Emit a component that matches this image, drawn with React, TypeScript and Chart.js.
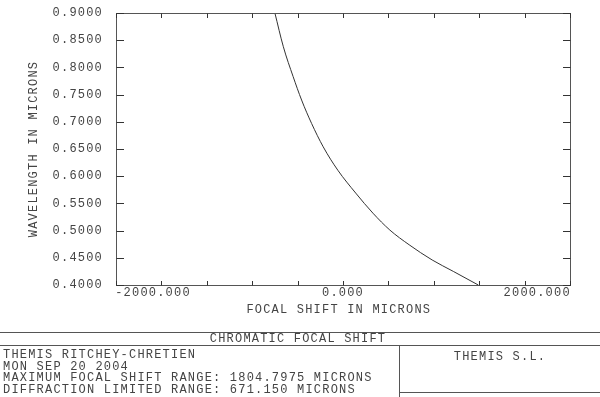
import React, { useEffect, useRef } from 'react';
import { Chart, registerables } from 'chart.js';

Chart.register(...registerables);

// ---- data ----
const wavelengths = [0.900, 0.838, 0.783, 0.740, 0.697, 0.654, 0.611, 0.569, 0.532, 0.501, 0.474, 0.446, 0.425, 0.400];
const focalShift = [-750, -657, -549, -456, -346, -218, -57, 140, 330, 516, 728, 982, 1215, 1490];

const xMin = -2500;
const xMax = 2500;
const xStep = 500;
const xLabelValues = [-2000, 0, 2000];
const yMin = 0.4;
const yMax = 0.9;
const yStep = 0.05;

const xTitle = 'FOCAL SHIFT IN MICRONS';
const yTitle = 'WAVELENGTH IN MICRONS';
const plotTitle = 'CHROMATIC FOCAL SHIFT';
const infoLines = [
  'THEMIS RITCHEY-CHRETIEN',
  'MON SEP 20 2004',
  'MAXIMUM FOCAL SHIFT RANGE: 1804.7975 MICRONS',
  'DIFFRACTION LIMITED RANGE: 671.150 MICRONS',
];
const company = 'THEMIS S.L.';

const FONT_FAMILY = '"Liberation Mono", "DejaVu Sans Mono", monospace';
const FONT_SIZE = 12;
const LETTER_SPACING = '1.2px';
const TEXT_COLOR = '#444';
const LINE_COLOR = '#555';

const framePlugin = {
  id: 'zemaxFrame',
  beforeUpdate(chart: any) {
    chart.ctx.letterSpacing = LETTER_SPACING;
  },
  beforeDraw(chart: any) {
    chart.ctx.letterSpacing = LETTER_SPACING;
  },
  afterDraw(chart: any) {
    const ctx = chart.ctx as CanvasRenderingContext2D;
    const { left, right, top, bottom } = chart.chartArea;
    const xs = chart.scales.x;
    const ys = chart.scales.y;
    ctx.save();
    ctx.lineWidth = 1;
    ctx.strokeStyle = LINE_COLOR;
    ctx.strokeRect(Math.round(left) + 0.5, Math.round(top) + 0.5, Math.round(right - left), Math.round(bottom - top));
    ctx.strokeStyle = '#333';
    ctx.beginPath();
    xs.ticks.forEach((t: any) => {
      const px = Math.round(xs.getPixelForValue(t.value)) + 0.5;
      ctx.moveTo(px, Math.round(bottom) + 0.5);
      ctx.lineTo(px, Math.round(bottom) - 4);
      ctx.moveTo(px, Math.round(top) + 0.5);
      ctx.lineTo(px, Math.round(top) + 5);
    });
    ys.ticks.forEach((t: any) => {
      const py = Math.round(ys.getPixelForValue(t.value)) + 0.5;
      ctx.moveTo(Math.round(left) + 0.5, py);
      ctx.lineTo(Math.round(left) + 8, py);
      ctx.moveTo(Math.round(right) + 0.5, py);
      ctx.lineTo(Math.round(right) - 7, py);
    });
    ctx.stroke();

    // title block
    const W = chart.width;
    const H = chart.height;
    ctx.strokeStyle = LINE_COLOR;
    ctx.beginPath();
    ctx.moveTo(0, 332.5);
    ctx.lineTo(W, 332.5);
    ctx.moveTo(0, 345.5);
    ctx.lineTo(W, 345.5);
    ctx.moveTo(399.5, 345.5);
    ctx.lineTo(399.5, H);
    ctx.moveTo(399.5, 392.5);
    ctx.lineTo(W, 392.5);
    ctx.stroke();

    ctx.letterSpacing = LETTER_SPACING;
    ctx.font = `${FONT_SIZE}px ${FONT_FAMILY}`;
    ctx.fillStyle = TEXT_COLOR;
    ctx.textBaseline = 'middle';
    ctx.textAlign = 'center';
    ctx.fillText(plotTitle, 298, 339);
    ctx.fillText(company, 500, 357);
    ctx.textAlign = 'left';
    infoLines.forEach((line, i) => {
      ctx.fillText(line, 3, 355 + i * 11.5);
    });
    ctx.restore();
  },
};

export default function App() {
  const canvasRef = useRef<HTMLCanvasElement | null>(null);

  useEffect(() => {
    const canvas = canvasRef.current;
    if (!canvas) return;
    const font = { family: FONT_FAMILY, size: FONT_SIZE, lineHeight: 1.2 };
    const chart = new Chart(canvas, {
      type: 'scatter',
      data: {
        datasets: [
          {
            data: focalShift.map((f, i) => ({ x: f, y: wavelengths[i] })),
            showLine: true,
            borderColor: '#333',
            borderWidth: 1,
            pointRadius: 0,
            cubicInterpolationMode: 'monotone',
          },
        ],
      },
      options: {
        responsive: false,
        maintainAspectRatio: false,
        animation: false,
        events: [],
        layout: { padding: { top: 13, right: 30, left: 0, bottom: 0 } },
        plugins: {
          legend: { display: false },
          tooltip: { enabled: false },
        },
        scales: {
          x: {
            type: 'linear',
            min: xMin,
            max: xMax,
            grid: { display: false, drawTicks: false },
            border: { display: false },
            ticks: {
              stepSize: xStep,
              autoSkip: false,
              maxRotation: 0,
              minRotation: 0,
              padding: 1,
              color: TEXT_COLOR,
              font,
              callback: (v: any) => {
                const n = Number(v);
                if (!xLabelValues.includes(n)) return '';
                const s = n.toFixed(3);
                if (n === xLabelValues[0]) return s + '  ';
                if (n === xLabelValues[xLabelValues.length - 1]) return '   ' + s;
                return s;
              },
            },
            title: {
              display: true,
              text: xTitle + ' ',
              color: TEXT_COLOR,
              font,
              padding: { top: 0, bottom: 80 },
            },
            afterFit: (scale: any) => {
              scale.height = 112;
              scale.paddingLeft = 0;
              scale.paddingRight = 0;
            },
          },
          y: {
            type: 'linear',
            min: yMin,
            max: yMax,
            grid: { display: false, drawTicks: false },
            border: { display: false },
            ticks: {
              stepSize: yStep,
              autoSkip: false,
              padding: 13,
              color: TEXT_COLOR,
              font,
              callback: (v: any) => Number(v).toFixed(4),
            },
            title: {
              display: true,
              text: yTitle,
              color: TEXT_COLOR,
              font,
              padding: { top: 27, bottom: 0 },
            },
            afterFit: (scale: any) => {
              scale.width = 116;
              scale.paddingTop = 0;
              scale.paddingBottom = 0;
            },
          },
        },
      },
      plugins: [framePlugin],
    } as any);
    return () => {
      chart.destroy();
    };
  }, []);

  return (
    <div style={{ position: 'absolute', left: 0, top: 0, width: 600, height: 397, background: '#fff' }}>
      <canvas ref={canvasRef} width={600} height={397} style={{ display: 'block' }} />
    </div>
  );
}
